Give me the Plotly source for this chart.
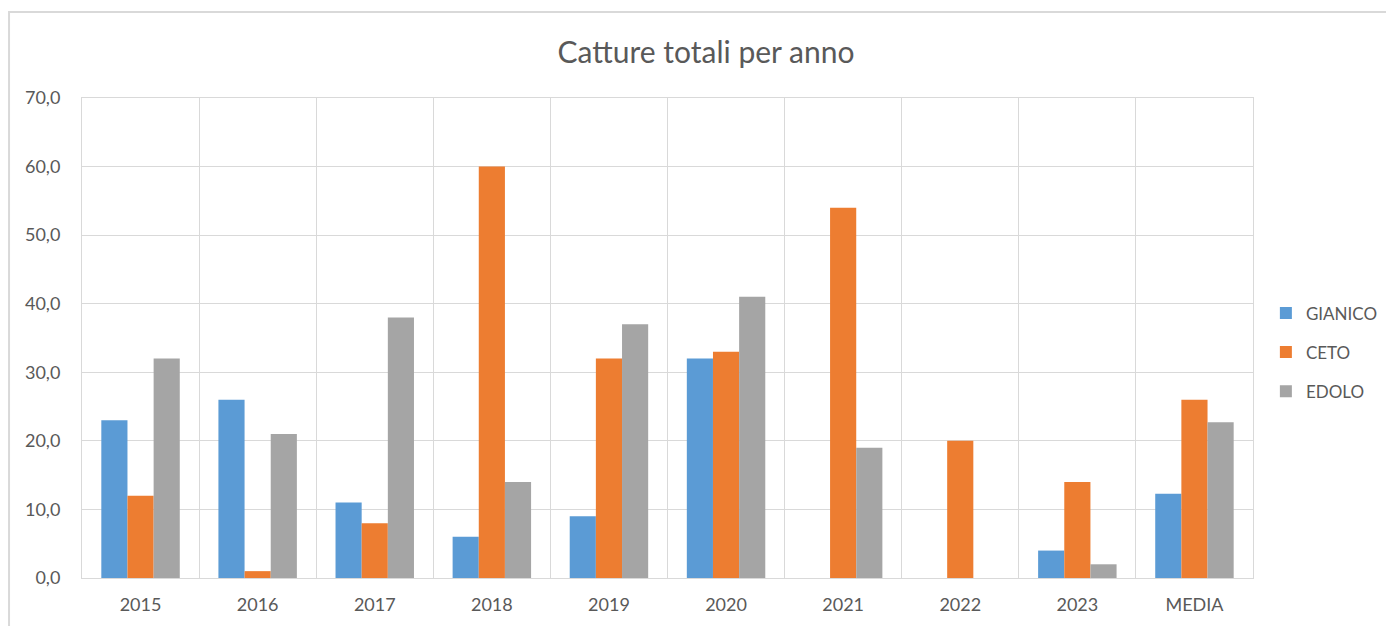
import plotly.graph_objects as go

anni = ["2015", "2016", "2017", "2018", "2019", "2020", "2021", "2022", "2023", "MEDIA"]
gianico = [23, 26, 11, 6, 9, 32, 0, 0, 4, 12.3]
ceto = [12, 1, 8, 60, 32, 33, 54, 20, 14, 26.0]
edolo = [32, 21, 38, 14, 37, 41, 19, 0, 2, 22.7]

serie = [
    ("GIANICO", gianico, "#5B9BD5"),
    ("CETO", ceto, "#ED7D31"),
    ("EDOLO", edolo, "#A5A5A5"),
]

FONT = "Lato"
GRIGIO_TESTO = "#595959"
GRIGIO_LINEE = "#d9d9d9"

fig = go.Figure()

for nome, valori, colore in serie:
    fig.add_trace(
        go.Bar(
            x=anni,
            y=valori,
            name=nome,
            marker=dict(color=colore, line=dict(width=0)),
            legendgroup=nome,
        )
    )

# cornice del grafico (solo bordo superiore e sinistro visibili)
fig.add_shape(
    type="rect",
    xref="paper",
    yref="paper",
    x0=-0.0623,
    x1=1.2,
    y0=-0.2,
    y1=1.179,
    line=dict(color="#d9d9d9", width=2),
    fillcolor="rgba(0,0,0,0)",
    layer="below",
)

# la pagina html ha 8px di margine sul body: si compensa qui
fig.update_layout(
    width=1394,
    height=618,
    margin=dict(l=74, r=149, t=90, b=48),
    paper_bgcolor="white",
    plot_bgcolor="white",
    separators=",.",
    barmode="group",
    bargap=0.33,
    bargroupgap=0,
    font=dict(family=FONT, color=GRIGIO_TESTO, size=18),
    title=dict(
        text="Catture totali per anno",
        font=dict(family=FONT, size=30, color=GRIGIO_TESTO),
        x=698 / 1394,
        xanchor="center",
        xref="container",
        y=1 - 44 / 618,
        yanchor="middle",
        yref="container",
    ),
    legend=dict(
        x=0.011,
        xref="paper",
        xanchor="left",
        y=0.47,
        yanchor="middle",
        font=dict(family=FONT, size=17, color=GRIGIO_TESTO),
        tracegroupgap=14,
        bgcolor="rgba(0,0,0,0)",
    ),
    showlegend=True,
)

fig.update_layout(legend_x=1.011)

fig.update_xaxes(
    type="category",
    tickson="boundaries",
    showgrid=True,
    gridcolor=GRIGIO_LINEE,
    gridwidth=1,
    showline=True,
    linecolor=GRIGIO_LINEE,
    linewidth=1,
    mirror=True,
    ticks="",
    tickfont=dict(family=FONT, size=18, color=GRIGIO_TESTO),
    ticklabelstandoff=10,
)

fig.update_yaxes(
    range=[0, 70],
    tickmode="linear",
    tick0=0,
    dtick=10,
    tickformat=".1f",
    showgrid=True,
    gridcolor=GRIGIO_LINEE,
    gridwidth=1,
    showline=True,
    linecolor=GRIGIO_LINEE,
    linewidth=1,
    mirror=True,
    zeroline=False,
    ticks="",
    tickfont=dict(family=FONT, size=18, color=GRIGIO_TESTO),
    ticklabelstandoff=17,
)

fig.write_html("out.html")
